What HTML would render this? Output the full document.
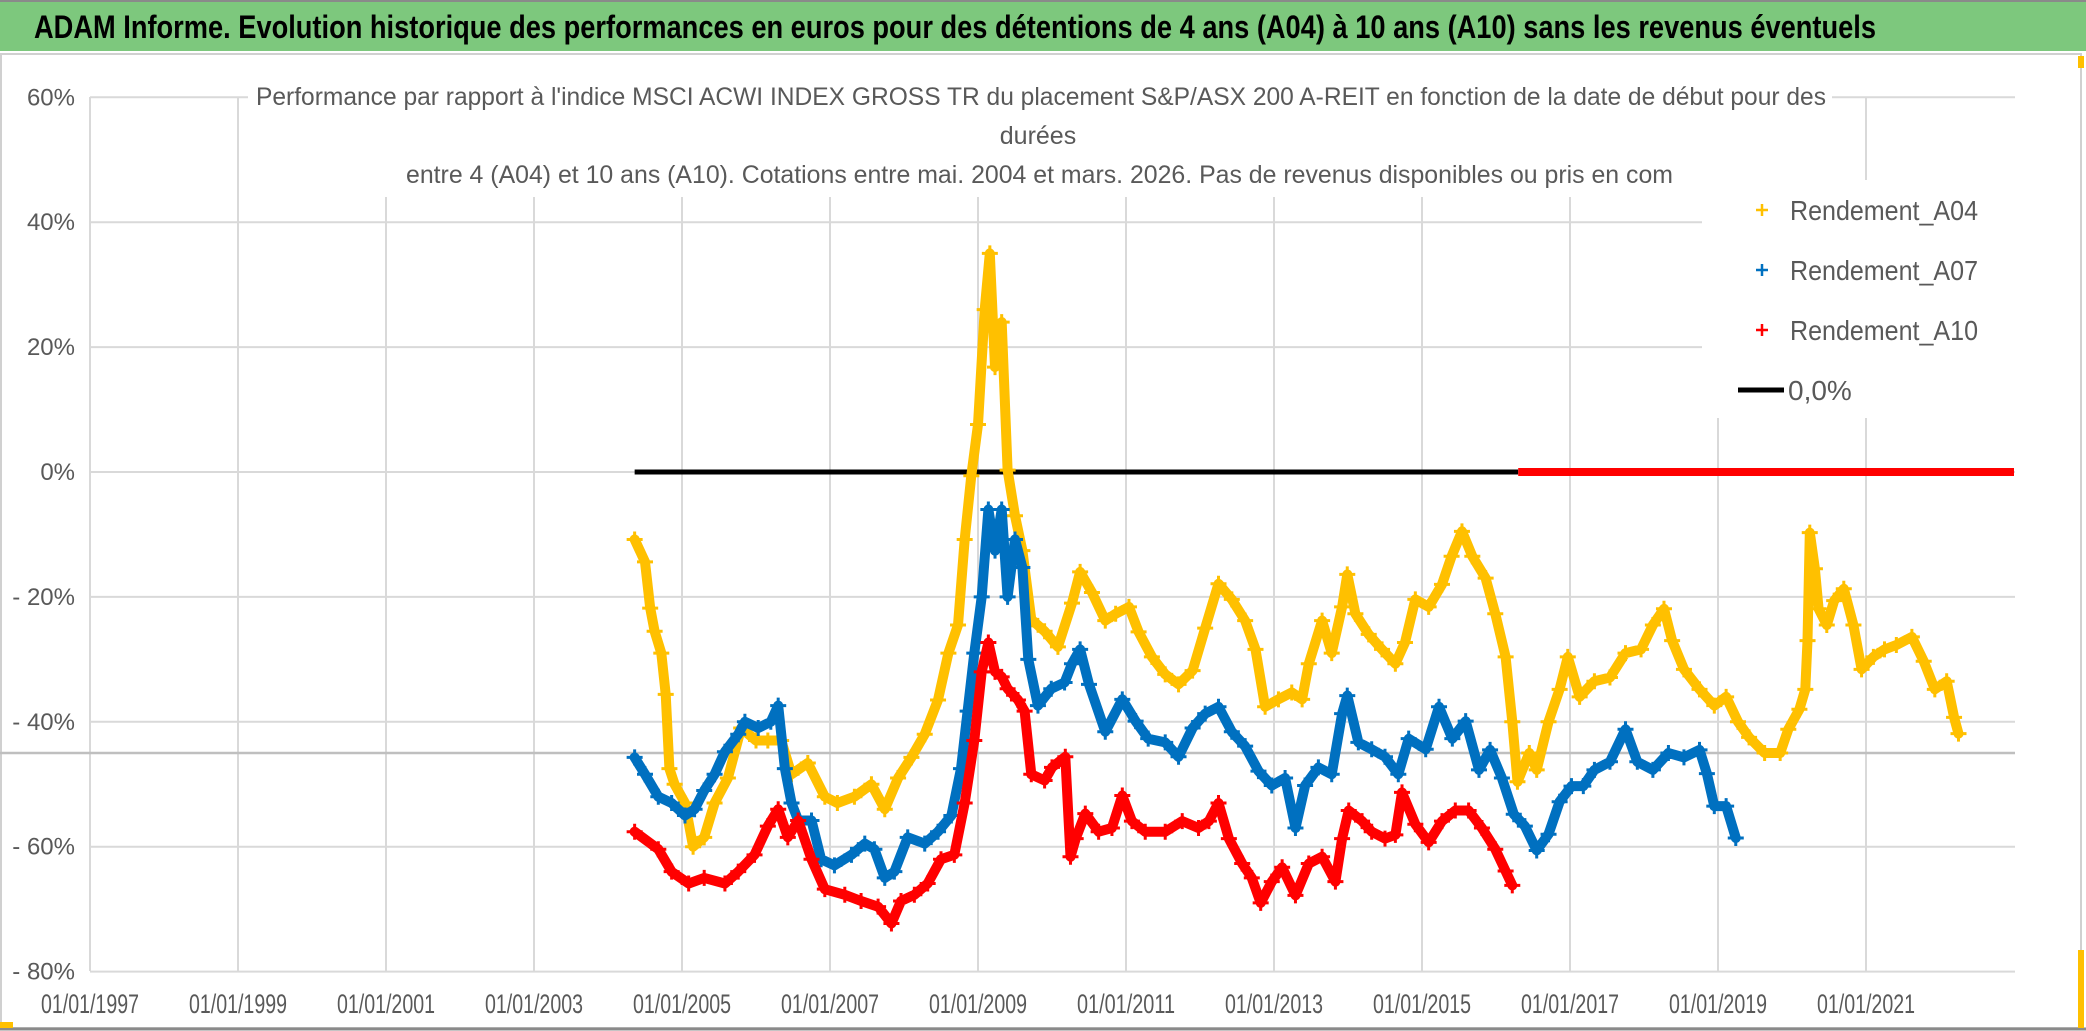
<!DOCTYPE html>
<html><head><meta charset="utf-8"><style>
html,body{margin:0;padding:0;background:#fff;width:2086px;height:1031px;overflow:hidden}
svg{display:block}
</style></head><body>
<svg id="chart" width="2086" height="1031" xmlns="http://www.w3.org/2000/svg" font-family="'Liberation Sans Narrow','Liberation Sans',sans-serif">
<rect x="0" y="0" width="2086" height="1031" fill="#fff"/>
<rect x="0" y="0" width="2086" height="51" fill="#7DC87D"/>
<line x1="0" y1="1" x2="2086" y2="1" stroke="#8a8a8a" stroke-width="2"/>
<text x="34" y="38" font-size="32" font-weight="bold" fill="#000" textLength="1842" lengthAdjust="spacingAndGlyphs">ADAM Informe. Evolution historique des performances en euros pour des détentions de 4 ans (A04) à 10 ans (A10) sans les revenus éventuels</text>
<rect x="1" y="54" width="2080" height="974" fill="none" stroke="#d0d0d0" stroke-width="2"/>
<line x1="0" y1="1029" x2="2086" y2="1029" stroke="#8a8a8a" stroke-width="3"/>
<rect x="0" y="1022" width="13" height="6" fill="#FFC000"/>
<rect x="2078" y="56" width="6" height="12" fill="#FFC000"/>
<rect x="2078" y="950" width="6" height="78" fill="#FFC000"/>
<g id="grid"></g>
<g id="marks"></g>
<rect x="248" y="70" width="1584" height="127" fill="#fff"/>
<text x="256" y="105" font-size="25" fill="#595959" textLength="1570" lengthAdjust="spacingAndGlyphs">Performance par rapport à l'indice MSCI ACWI INDEX GROSS TR  du placement S&amp;P/ASX 200 A-REIT en fonction de la date de début pour des</text>
<text x="1038" y="144" font-size="25" fill="#595959" text-anchor="middle">durées</text>
<text x="406" y="183" font-size="25" fill="#595959" textLength="1267" lengthAdjust="spacingAndGlyphs">entre 4 (A04) et 10 ans (A10). Cotations entre mai. 2004 et mars. 2026. Pas de revenus disponibles ou pris en com</text>
<g id="legend">
<rect x="1702" y="180" width="318" height="238" fill="#fff"/>
</g>
</svg>
<script>
// ---- data (year, % value) ----
const yTicks = [60, 40, 20, 0, -20, -40, -60, -80];
const yTickLabels = ["60%", "40%", "20%", "0%", "- 20%", "- 40%", "- 60%", "- 80%"];
const xTickYears = [1997, 1999, 2001, 2003, 2005, 2007, 2009, 2011, 2013, 2015, 2017, 2019, 2021];
const xTickLabels = ["01/01/1997","01/01/1999","01/01/2001","01/01/2003","01/01/2005","01/01/2007","01/01/2009","01/01/2011","01/01/2013","01/01/2015","01/01/2017","01/01/2019","01/01/2021"];
const refLineValue = -45;
const a04Years = [2004.36,2004.5,2004.57,2004.63,2004.72,2004.78,2004.83,2004.9,2005.04,2005.15,2005.3,2005.44,2005.62,2005.8,2006.0,2006.16,2006.34,2006.48,2006.7,2006.93,2007.1,2007.33,2007.56,2007.74,2007.92,2008.1,2008.28,2008.46,2008.6,2008.73,2008.82,2008.91,2009.0,2009.09,2009.16,2009.23,2009.32,2009.4,2009.5,2009.6,2009.72,2009.9,2010.08,2010.27,2010.38,2010.54,2010.72,2010.86,2011.04,2011.17,2011.35,2011.53,2011.71,2011.9,2012.07,2012.25,2012.43,2012.61,2012.75,2012.88,2013.06,2013.24,2013.38,2013.47,2013.65,2013.78,2013.92,2013.99,2014.1,2014.28,2014.46,2014.64,2014.77,2014.91,2015.09,2015.27,2015.4,2015.54,2015.68,2015.86,2015.99,2016.13,2016.22,2016.29,2016.45,2016.55,2016.71,2016.86,2016.97,2017.13,2017.33,2017.54,2017.75,2017.96,2018.12,2018.27,2018.38,2018.54,2018.75,2018.95,2019.11,2019.27,2019.42,2019.63,2019.84,2019.95,2020.1,2020.18,2020.21,2020.24,2020.31,2020.36,2020.47,2020.57,2020.7,2020.83,2020.94,2021.1,2021.25,2021.41,2021.62,2021.78,2021.93,2022.09,2022.19,2022.25];
const a04Values = [-10.8,-14.4,-21.8,-25.5,-29,-35.6,-47.5,-50,-53,-60,-58.5,-53,-49,-41,-43,-43,-43,-48.4,-46.6,-52,-53,-52,-50,-54,-49,-45.7,-42,-36.5,-29,-24.5,-10.8,-0.6,7.6,26,35,16.8,24,0.3,-7,-12.6,-23.6,-25.5,-28,-21,-16,-19.3,-23.8,-22.7,-21.6,-25.6,-29.6,-32.4,-34,-31.8,-25,-17.9,-20.4,-23.8,-28.4,-37.6,-36.4,-35.3,-36.4,-30.7,-23.8,-29,-21.6,-16.4,-22.7,-26,-28.4,-30.7,-27.3,-20.4,-21.6,-18,-13.5,-9.5,-13.5,-17,-22.7,-29.6,-40,-49.6,-45,-47.7,-40,-34.8,-29.6,-36,-33.5,-32.9,-29,-28.4,-24.5,-21.9,-27,-31.6,-34.8,-37.4,-36,-40,-42.5,-45,-45,-41.2,-38,-34.8,-27,-9.7,-15.5,-21.9,-24.5,-20.6,-18.7,-24.5,-31.6,-29.6,-28.4,-27.7,-26.4,-30.3,-34.8,-33.5,-39.3,-41.9];
const a07Years = [2004.36,2004.5,2004.68,2004.86,2005.04,2005.17,2005.3,2005.44,2005.58,2005.76,2005.85,2006.03,2006.2,2006.3,2006.39,2006.48,2006.57,2006.75,2006.88,2007.06,2007.29,2007.47,2007.6,2007.74,2007.87,2008.05,2008.28,2008.46,2008.64,2008.77,2008.86,2008.95,2009.05,2009.14,2009.23,2009.32,2009.4,2009.5,2009.6,2009.68,2009.81,2009.99,2010.17,2010.27,2010.38,2010.5,2010.72,2010.95,2011.13,2011.3,2011.53,2011.71,2011.9,2012.07,2012.25,2012.43,2012.61,2012.79,2012.97,2013.15,2013.29,2013.42,2013.6,2013.78,2013.92,2013.99,2014.14,2014.32,2014.5,2014.68,2014.82,2015.05,2015.23,2015.41,2015.59,2015.77,2015.92,2016.08,2016.24,2016.39,2016.55,2016.71,2016.86,2017.02,2017.18,2017.33,2017.54,2017.75,2017.91,2018.12,2018.33,2018.54,2018.75,2018.85,2018.95,2019.11,2019.24];
const a07Values = [-45.7,-48.4,-52,-53,-55,-54,-51,-48.4,-44.8,-42,-40,-41,-40,-37.4,-47.5,-53,-55.8,-55.8,-62,-63,-61.3,-59.5,-60.4,-65,-64,-58.5,-59.5,-57.6,-55,-47.5,-38.3,-29,-20,-6,-12.6,-6,-20,-10.8,-15.3,-30,-37.4,-34.7,-33.7,-30.7,-28.4,-34,-41.6,-36.4,-39.9,-42.7,-43.3,-45.6,-41,-38.7,-37.6,-41.6,-43.9,-47.9,-50.2,-49,-57,-50.2,-47.3,-48.4,-38.7,-35.8,-43.3,-44.4,-45.6,-48.4,-42.7,-44.4,-37.6,-42.7,-39.9,-47.7,-44.5,-49,-54.8,-56.7,-60.6,-58,-52.8,-50.3,-50.3,-47.7,-46.4,-41.2,-46.4,-47.7,-45,-45.7,-44.5,-48.3,-53.5,-53.5,-58.6];
const a10Years = [2004.36,2004.68,2004.86,2005.09,2005.3,2005.58,2005.76,2005.98,2006.16,2006.3,2006.43,2006.57,2006.75,2006.93,2007.2,2007.42,2007.65,2007.83,2007.96,2008.14,2008.32,2008.5,2008.68,2008.82,2008.95,2009.05,2009.14,2009.23,2009.32,2009.4,2009.54,2009.63,2009.72,2009.9,2010.0,2010.18,2010.25,2010.32,2010.45,2010.63,2010.81,2010.95,2011.08,2011.26,2011.53,2011.76,2011.98,2012.12,2012.25,2012.39,2012.57,2012.7,2012.82,2012.97,2013.11,2013.29,2013.47,2013.65,2013.83,2013.92,2014.01,2014.19,2014.32,2014.5,2014.64,2014.73,2014.91,2015.09,2015.27,2015.45,2015.63,2015.81,2015.99,2016.13,2016.22];
const a10Values = [-57.6,-60.4,-64,-65.9,-65,-65.9,-64,-61.3,-56.7,-54,-58.5,-55.8,-62,-66.8,-67.7,-68.7,-69.6,-72.3,-68.7,-67.7,-65.9,-62,-61.3,-53,-43,-32,-27.3,-32,-32.8,-34.7,-36.5,-38.3,-48.4,-49.4,-47.3,-45.6,-61.6,-58.7,-54.7,-57.6,-57,-51.8,-55.9,-57.6,-57.6,-55.9,-57,-55.9,-53,-58.7,-62.7,-65,-69,-65.6,-63.3,-67.8,-62.7,-61.6,-65.6,-58.7,-54.2,-55.9,-57.6,-58.7,-58.1,-51.3,-56.4,-59.3,-55.9,-54.2,-54.2,-57,-60.4,-63.9,-66.2];
const zeroLineYears = [2004.36, 2016.3];
const a10ZeroYears = [2016.3, 2023.0];

// ---- axes ----
const X0 = 90, PX_PER_YEAR = 74, Y0 = 472, PX_PER_PCT = 6.245;
const PLOT_L = 90, PLOT_R = 2015, PLOT_T = 97, PLOT_B = 971;
function xs(yr){ return X0 + (yr - 1997) * PX_PER_YEAR; }
function ys(v){ return Y0 - v * PX_PER_PCT; }

const NS = "http://www.w3.org/2000/svg";
function mk(tag, attrs, parent){ const e = document.createElementNS(NS, tag); for (const k in attrs) e.setAttribute(k, attrs[k]); parent.appendChild(e); return e; }
const grid = document.getElementById("grid");
const marks = document.getElementById("marks");

yTicks.forEach((v, i) => {
  const l = mk("line", {x1: PLOT_L, x2: PLOT_R, y1: ys(v), y2: ys(v), stroke: "#d9d9d9", "stroke-width": 2}, grid);
  
  
  const t = mk("text", {x: 75, y: ys(v) + 8, "font-size": 24, fill: "#595959", "text-anchor": "end"}, grid);
  t.textContent = yTickLabels[i];
  
  
});
xTickYears.forEach((yr, i) => {
  const l = mk("line", {x1: xs(yr), x2: xs(yr), y1: PLOT_T, y2: PLOT_B, stroke: "#d9d9d9", "stroke-width": 2}, grid);
  
  
  const t = mk("text", {x: xs(yr), y: 1013, "font-size": 27, fill: "#595959", "text-anchor": "middle", textLength: 98, lengthAdjust: "spacingAndGlyphs"}, grid);
  t.textContent = xTickLabels[i];
  
  
});
const ref = mk("line", {x1: 0, x2: PLOT_R, y1: ys(refLineValue), y2: ys(refLineValue), stroke: "#bfbfbf", "stroke-width": 2.5}, grid);



// zero line (black)
const zl = mk("line", {x1: xs(zeroLineYears[0]), x2: xs(zeroLineYears[1]), y1: ys(0), y2: ys(0), stroke: "#000", "stroke-width": 5}, marks);



function series(years, vals, color, name){
  const g = mk("g", {}, marks);
  
  
  const pts = years.map((y, i) => xs(y).toFixed(1) + "," + ys(vals[i]).toFixed(1)).join(" ");
  mk("polyline", {points: pts, fill: "none", stroke: color, "stroke-width": 10, "stroke-linejoin": "round", "stroke-linecap": "round"}, g);
  years.forEach((y, i) => {
    const cx = xs(y), cy = ys(vals[i]);
    const p = mk("path", {d: `M${cx-8},${cy}H${cx+8}M${cx},${cy-8}V${cy+8}`, stroke: color, "stroke-width": 3}, g);
    
    
  });
}
series(a04Years, a04Values, "#FFC000", "series-a04");
series(a07Years, a07Values, "#0070C0", "series-a07");
series(a10Years, a10Values, "#FF0000", "series-a10");
const rz = mk("line", {x1: xs(a10ZeroYears[0]), x2: xs(a10ZeroYears[1]), y1: ys(0), y2: ys(0), stroke: "#FF0000", "stroke-width": 8}, marks);



// legend
const leg = document.getElementById("legend");
const legItems = [["Rendement_A04", "#FFC000", 210], ["Rendement_A07", "#0070C0", 270], ["Rendement_A10", "#FF0000", 330]];
legItems.forEach(it => {
  const p = mk("path", {d: `M1756,${it[2]}H1768M1762,${it[2]-6}V${it[2]+6}`, stroke: it[1], "stroke-width": 2.5}, leg);
  
  
  const t = mk("text", {x: 1790, y: it[2] + 10, "font-size": 28, fill: "#595959", textLength: 188, lengthAdjust: "spacingAndGlyphs"}, leg);
  t.textContent = it[0];
  
  
});
const ll = mk("line", {x1: 1738, x2: 1784, y1: 390, y2: 390, stroke: "#000", "stroke-width": 5}, leg);


const lt = mk("text", {x: 1788, y: 400, "font-size": 28, fill: "#595959"}, leg);
lt.textContent = "0,0%";


</script>
</body></html>
